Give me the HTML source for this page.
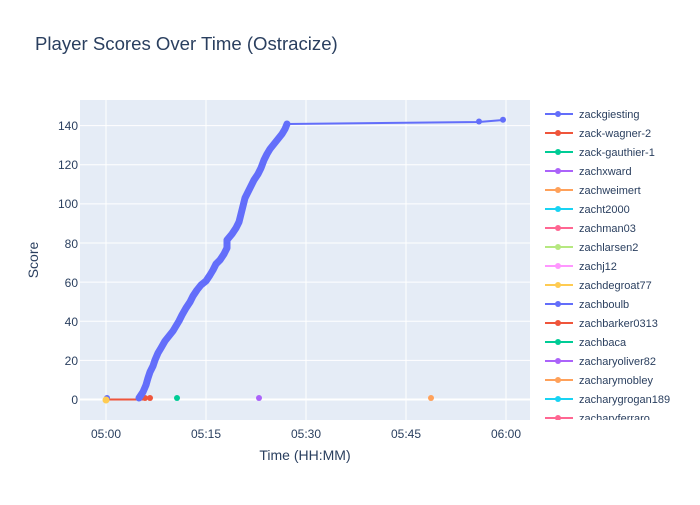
<!DOCTYPE html>
<html><head><meta charset="utf-8"><style>
body{margin:0;background:#fff;font-family:"Liberation Sans",sans-serif;}
</style></head><body>
<svg width="700" height="500" xmlns="http://www.w3.org/2000/svg" font-family="Liberation Sans, sans-serif">
<rect width="700" height="500" fill="#fff"/>
<text x="35" y="50" font-size="18.6" fill="#2a3f5f">Player Scores Over Time (Ostracize)</text>
<rect x="80" y="100" width="450" height="320" fill="#e5ecf6"/>
<g stroke="#fff" stroke-width="1">
<line x1="80" x2="530" y1="360.4" y2="360.4"/><line x1="80" x2="530" y1="321.3" y2="321.3"/>
<line x1="80" x2="530" y1="282.1" y2="282.1"/><line x1="80" x2="530" y1="243" y2="243"/>
<line x1="80" x2="530" y1="203.9" y2="203.9"/><line x1="80" x2="530" y1="164.7" y2="164.7"/>
<line x1="80" x2="530" y1="125.6" y2="125.6"/>
<line x1="106" x2="106" y1="100" y2="420"/><line x1="206" x2="206" y1="100" y2="420"/>
<line x1="306" x2="306" y1="100" y2="420"/><line x1="406" x2="406" y1="100" y2="420"/>
<line x1="506" x2="506" y1="100" y2="420"/>
</g>
<line x1="80" x2="530" y1="399.5" y2="399.5" stroke="#fff" stroke-width="2"/>
<g font-size="12" fill="#2a3f5f" text-anchor="end">
<text x="78" y="404">0</text><text x="78" y="365">20</text><text x="78" y="326">40</text>
<text x="78" y="287">60</text><text x="78" y="248">80</text><text x="78" y="208">100</text>
<text x="78" y="169">120</text><text x="78" y="130">140</text>
</g>
<g font-size="12" fill="#2a3f5f" text-anchor="middle">
<text x="106" y="438">05:00</text><text x="206" y="438">05:15</text><text x="306" y="438">05:30</text>
<text x="406" y="438">05:45</text><text x="506" y="438">06:00</text>
</g>
<text x="305" y="460" font-size="14" fill="#2a3f5f" text-anchor="middle">Time (HH:MM)</text>
<text transform="translate(38,260) rotate(-90)" font-size="14" fill="#2a3f5f" text-anchor="middle">Score</text>
<line x1="106" x2="146" y1="399.5" y2="399.5" stroke="#ef553b" stroke-width="2"/>
<circle cx="145" cy="398" r="3" fill="#ef553b"/><circle cx="150" cy="398" r="3" fill="#ef553b"/>
<polyline fill="none" stroke="#636efa" stroke-width="7" stroke-linejoin="round" stroke-linecap="round"
points="139,398 143,392 146,385 148,378 150,372 153,366 155,360 158,353 161,348 165,341 169,336 173,331 176,326 179,321 182,315 186,308 190,302 193,296 197,290 201,285 206,281 210,275 213,270 216,264 220,260 224,254 227,248 227,240 232,234 236,228 239,222 241,214 243,206 245,198 248,192 251,186 254,180 258,174 261,168 264,160 267,154 270,149 274,144 278,139 282,134 285,129 287,124"/>
<polyline fill="none" points="287,124 479,122 503,120" stroke="#636efa" stroke-width="2"/>
<circle cx="287" cy="124" r="3" fill="#636efa"/>
<circle cx="479" cy="121.5" r="3" fill="#636efa"/><circle cx="503" cy="119.8" r="3" fill="#636efa"/>
<circle cx="107" cy="398" r="3" fill="#636efa"/>
<circle cx="177" cy="398" r="3" fill="#00cc96"/>
<circle cx="259" cy="398" r="3" fill="#ab63fa"/>
<circle cx="431" cy="398" r="3" fill="#ffa15a"/>
<circle cx="106" cy="400" r="3.5" fill="#fecb52"/>
<svg x="540" y="100" width="160" height="320">
<g font-size="11" fill="#2a3f5f">
<g transform="translate(0,14)"><line x1="5" x2="33" stroke="#636efa" stroke-width="2"/><circle cx="18" r="3" fill="#636efa"/><text x="39" y="4">zackgiesting</text></g>
<g transform="translate(0,33)"><line x1="5" x2="33" stroke="#ef553b" stroke-width="2"/><circle cx="18" r="3" fill="#ef553b"/><text x="39" y="4">zack-wagner-2</text></g>
<g transform="translate(0,52)"><line x1="5" x2="33" stroke="#00cc96" stroke-width="2"/><circle cx="18" r="3" fill="#00cc96"/><text x="39" y="4">zack-gauthier-1</text></g>
<g transform="translate(0,71)"><line x1="5" x2="33" stroke="#ab63fa" stroke-width="2"/><circle cx="18" r="3" fill="#ab63fa"/><text x="39" y="4">zachxward</text></g>
<g transform="translate(0,90)"><line x1="5" x2="33" stroke="#ffa15a" stroke-width="2"/><circle cx="18" r="3" fill="#ffa15a"/><text x="39" y="4">zachweimert</text></g>
<g transform="translate(0,109)"><line x1="5" x2="33" stroke="#19d3f3" stroke-width="2"/><circle cx="18" r="3" fill="#19d3f3"/><text x="39" y="4">zacht2000</text></g>
<g transform="translate(0,128)"><line x1="5" x2="33" stroke="#ff6692" stroke-width="2"/><circle cx="18" r="3" fill="#ff6692"/><text x="39" y="4">zachman03</text></g>
<g transform="translate(0,147)"><line x1="5" x2="33" stroke="#b6e880" stroke-width="2"/><circle cx="18" r="3" fill="#b6e880"/><text x="39" y="4">zachlarsen2</text></g>
<g transform="translate(0,166)"><line x1="5" x2="33" stroke="#ff97ff" stroke-width="2"/><circle cx="18" r="3" fill="#ff97ff"/><text x="39" y="4">zachj12</text></g>
<g transform="translate(0,185)"><line x1="5" x2="33" stroke="#fecb52" stroke-width="2"/><circle cx="18" r="3" fill="#fecb52"/><text x="39" y="4">zachdegroat77</text></g>
<g transform="translate(0,204)"><line x1="5" x2="33" stroke="#636efa" stroke-width="2"/><circle cx="18" r="3" fill="#636efa"/><text x="39" y="4">zachboulb</text></g>
<g transform="translate(0,223)"><line x1="5" x2="33" stroke="#ef553b" stroke-width="2"/><circle cx="18" r="3" fill="#ef553b"/><text x="39" y="4">zachbarker0313</text></g>
<g transform="translate(0,242)"><line x1="5" x2="33" stroke="#00cc96" stroke-width="2"/><circle cx="18" r="3" fill="#00cc96"/><text x="39" y="4">zachbaca</text></g>
<g transform="translate(0,261)"><line x1="5" x2="33" stroke="#ab63fa" stroke-width="2"/><circle cx="18" r="3" fill="#ab63fa"/><text x="39" y="4">zacharyoliver82</text></g>
<g transform="translate(0,280)"><line x1="5" x2="33" stroke="#ffa15a" stroke-width="2"/><circle cx="18" r="3" fill="#ffa15a"/><text x="39" y="4">zacharymobley</text></g>
<g transform="translate(0,299)"><line x1="5" x2="33" stroke="#19d3f3" stroke-width="2"/><circle cx="18" r="3" fill="#19d3f3"/><text x="39" y="4">zacharygrogan189</text></g>
<g transform="translate(0,318)"><line x1="5" x2="33" stroke="#ff6692" stroke-width="2"/><circle cx="18" r="3" fill="#ff6692"/><text x="39" y="4">zacharyferraro</text></g>
</g>
</svg>
</svg>
</body></html>
